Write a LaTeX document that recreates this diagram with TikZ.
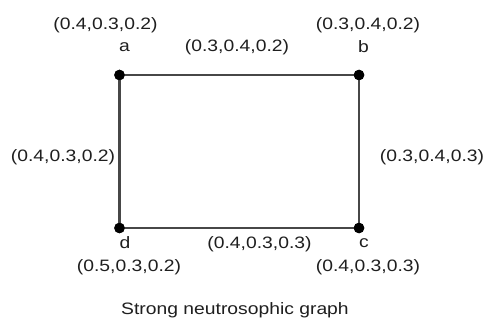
\documentclass[tikz,border=0pt]{standalone}
\usepackage{fontspec}
\setmainfont{Liberation Sans}
\begin{document}
\begin{tikzpicture}[x=1pt,y=-1pt,
  vtx/.style={circle,fill=black,inner sep=0pt,minimum size=10.5pt},
  edge/.style={draw=black!72,line width=2.8pt},
  lbl/.style={inner sep=0pt,text=black!88,font=\fontsize{16.5}{18}\selectfont,xscale=1.17,transform shape}]
\useasboundingbox[fill=white] (0,0) rectangle (486,320);
\node[vtx] (a) at (119.5,75) {};
\node[vtx] (b) at (359,75) {};
\node[vtx] (c) at (359,228) {};
\node[vtx] (d) at (119.5,228) {};
\draw[edge] (a.center) -- (b.center) -- (c.center) -- (d.center) -- cycle;
\node[vtx] at (a) {};
\node[vtx] at (b) {};
\node[vtx] at (c) {};
\node[vtx] at (d) {};
\node[lbl] (la) at (124.5,47) {a};
\node[lbl] (lb) at (363.5,47) {b};
\node[lbl] (lc) at (364,243) {c};
\node[lbl] (ld) at (125,243) {d};
\node[lbl] (va) at (105.5,25.5) {(0.4,0.3,0.2)};
\node[lbl] (vb) at (368,25.5) {(0.3,0.4,0.2)};
\node[lbl] (vd) at (129,267.5) {(0.5,0.3,0.2)};
\node[lbl] (vc) at (368,267.5) {(0.4,0.3,0.3)};
\node[lbl] (eab) at (237,47.5) {(0.3,0.4,0.2)};
\node[lbl] (ead) at (63,157.5) {(0.4,0.3,0.2)};
\node[lbl] (ebc) at (432,157.5) {(0.3,0.4,0.3)};
\node[lbl] (edc) at (259.5,244.5) {(0.4,0.3,0.3)};
\node[lbl] (title) at (235,310.5) {Strong neutrosophic graph};
\end{tikzpicture}
\end{document}
